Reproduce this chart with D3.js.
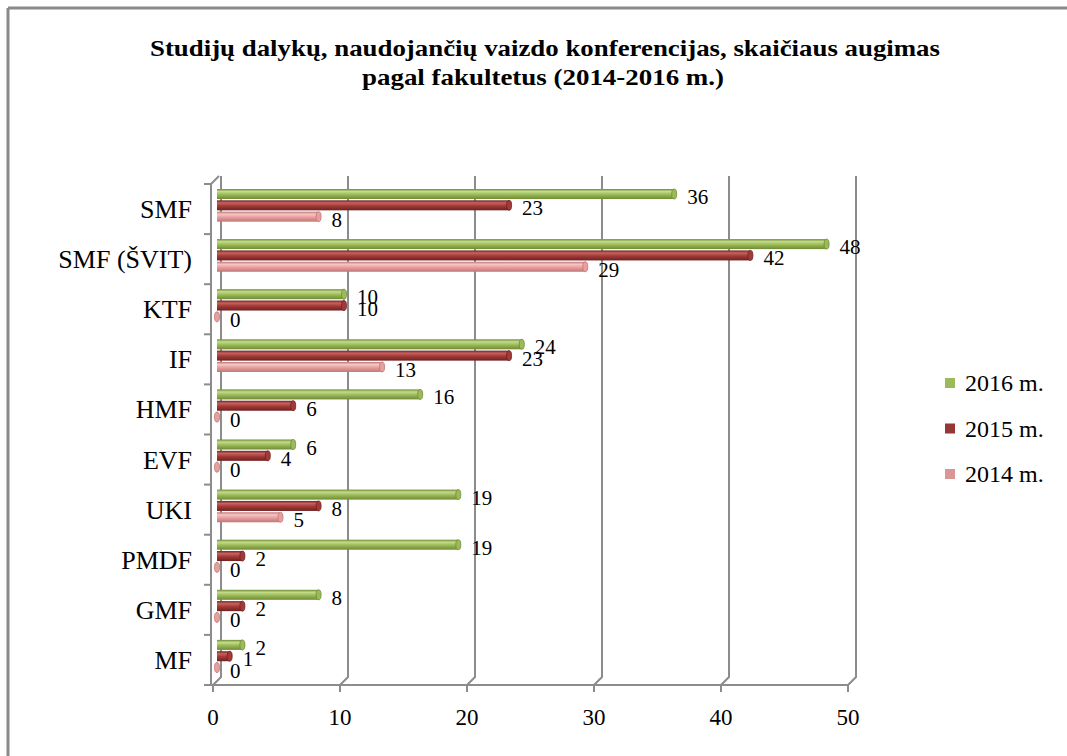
<!DOCTYPE html>
<html>
<head>
<meta charset="utf-8">
<script src="https://cdn.jsdelivr.net/npm/d3@7"></script>
<style>
  body { margin: 0; background: #fff; }
  text { font-family: "Times New Roman", "Liberation Serif", serif; fill: #000; }
</style>
</head>
<body>
<div id="vis"></div>
<script>
// data
const categories = ["SMF", "SMF (ŠVIT)", "KTF", "IF", "HMF", "EVF", "UKI", "PMDF", "GMF", "MF"];
const series = ["2016 m.", "2015 m.", "2014 m."];
const values2016 = [36, 48, 10, 24, 16, 6, 19, 19, 8, 2];
const values2015 = [23, 42, 10, 23, 6, 4, 8, 2, 2, 1];
const values2014 = [8, 29, 0, 13, 0, 0, 5, 0, 0, 0];
const xTicks = [0, 10, 20, 30, 40, 50];

const colors = {
  "2016 m.": {base: "#9bbb59", light: "#c3dc8a", dark: "#6f8a35"},
  "2015 m.": {base: "#a33a38", light: "#c8625f", dark: "#6e2220"},
  "2014 m.": {base: "#e8a09e", light: "#f6c6c5", dark: "#c07674"}
};
const legendColors = {"2016 m.": "#9bbb59", "2015 m.": "#953735", "2014 m.": "#d99694"};

const W = 1067, H = 756;
const depth = {dx: 8, dy: -8};

const svg = d3.select("#vis").append("svg")
  .attr("width", W).attr("height", H);

// frame
svg.append("line").attr("x1", 8).attr("y1", 8).attr("x2", W).attr("y2", 8)
  .attr("stroke", "#8a8a8a").attr("stroke-width", 3);
svg.append("line").attr("x1", 8).attr("y1", 8).attr("x2", 8).attr("y2", H)
  .attr("stroke", "#8a8a8a").attr("stroke-width", 3);

// title
svg.append("text").attr("x", 545).attr("y", 56).attr("text-anchor", "middle")
  .style("font-size", "24px").style("font-weight", "bold")
  .attr("textLength", 790).attr("lengthAdjust", "spacingAndGlyphs")
  .text("Studijų  dalykų, naudojančių vaizdo konferencijas, skaičiaus augimas");
svg.append("text").attr("x", 543).attr("y", 85).attr("text-anchor", "middle")
  .style("font-size", "24px").style("font-weight", "bold")
  .attr("textLength", 362).attr("lengthAdjust", "spacingAndGlyphs")
  .text("pagal fakultetus (2014-2016 m.)");

// scales
const x = d3.scaleLinear().domain([0, 50]).range([213, 848]);
const y0 = d3.scaleBand().domain(categories).range([184, 685]);
const y1 = d3.scaleBand().domain(series).range([5, 39]);
const floorY = 685;

const grid = svg.append("g").attr("stroke", "#8c8c8c").attr("stroke-width", 2).attr("fill", "none");

// back wall gridlines + floor diagonals
xTicks.forEach(t => {
  grid.append("path")
    .attr("d", `M${x(t)},${floorY} L${x(t) + depth.dx},${floorY + depth.dy} L${x(t) + depth.dx},${184 + depth.dy}`);
});
// left wall
grid.append("path")
  .attr("d", `M${x(0) - 2},${184} L${x(0) - 2 + depth.dx},${184 + depth.dy}`);
// front axes
grid.append("line").attr("x1", x(0) - 2).attr("x2", x(0) - 2).attr("y1", 184).attr("y2", floorY);
grid.append("line").attr("x1", x(0) - 2).attr("x2", x(50)).attr("y1", floorY).attr("y2", floorY);
// category ticks
categories.concat(["_end"]).forEach((c, i) => {
  const yy = i < categories.length ? y0(c) : floorY;
  grid.append("line").attr("x1", x(0) - 9).attr("x2", x(0) - 2).attr("y1", yy).attr("y2", yy);
});
// x ticks
xTicks.forEach(t => {
  grid.append("line").attr("x1", x(t)).attr("x2", x(t)).attr("y1", floorY).attr("y2", floorY + 7);
});

// tick labels
svg.append("g").selectAll("text").data(xTicks).join("text")
  .attr("x", d => x(d)).attr("y", floorY + 40)
  .attr("text-anchor", "middle").style("font-size", "23px")
  .text(d => d);

svg.append("g").selectAll("text").data(categories).join("text")
  .attr("x", 192).attr("y", d => y0(d) + y0.bandwidth() / 2 + 9)
  .attr("text-anchor", "end").style("font-size", "26px")
  .text(d => d);

// gradients for cylinders
const defs = svg.append("defs");
series.forEach((s, i) => {
  const c = colors[s];
  const g = defs.append("linearGradient").attr("id", "grad" + i)
    .attr("x1", 0).attr("y1", 0).attr("x2", 0).attr("y2", 1);
  g.append("stop").attr("offset", "0%").attr("stop-color", c.dark);
  g.append("stop").attr("offset", "25%").attr("stop-color", c.light);
  g.append("stop").attr("offset", "55%").attr("stop-color", c.base);
  g.append("stop").attr("offset", "100%").attr("stop-color", c.dark);
});

const rows = [];
categories.forEach((c, i) => {
  rows.push({cat: c, s: "2016 m.", si: 0, v: values2016[i]});
  rows.push({cat: c, s: "2015 m.", si: 1, v: values2015[i]});
  rows.push({cat: c, s: "2014 m.", si: 2, v: values2014[i]});
});

const barH = 10, shift = 4;
const bars = svg.append("g").selectAll("g").data(rows).join("g");
bars.append("rect")
  .attr("x", x(0) + shift)
  .attr("y", d => y0(d.cat) + y1(d.s))
  .attr("width", d => Math.max(0, x(d.v) - x(0)))
  .attr("height", barH)
  .attr("fill", d => "url(#grad" + d.si + ")");
bars.append("ellipse")
  .attr("cx", d => x(d.v) + shift)
  .attr("cy", d => y0(d.cat) + y1(d.s) + barH / 2)
  .attr("rx", 2.5).attr("ry", barH / 2)
  .attr("fill", d => colors[d.s].base)
  .attr("stroke", d => colors[d.s].dark).attr("stroke-width", 0.8);

// data labels
svg.append("g").selectAll("text").data(rows).join("text")
  .attr("x", d => x(d.v) + shift + 13)
  .attr("y", d => y0(d.cat) + y1(d.s) + barH / 2 + 10)
  .style("font-size", "21px")
  .text(d => d.v);

// legend
const leg = svg.append("g");
series.forEach((s, i) => {
  const ly = 383 + i * 45.5;
  leg.append("rect").attr("x", 945).attr("y", ly - 5).attr("width", 10).attr("height", 10)
    .attr("fill", legendColors[s]);
  leg.append("text").attr("x", 965).attr("y", ly + 8).style("font-size", "24px").text(s);
});
</script>
</body>
</html>
